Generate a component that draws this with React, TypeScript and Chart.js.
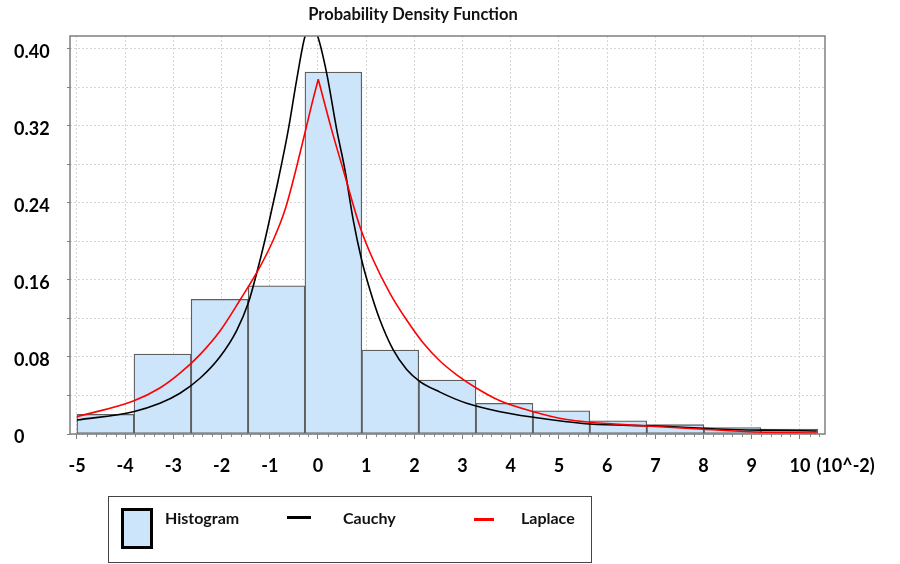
import React, { useEffect, useRef } from "react";
import { Chart, registerables } from "chart.js";

Chart.register(...registerables);

// ---------- data ----------
const chartTitle = "Probability Density Function";

// histogram bin edges (x, in units of 10^-2) and densities
const histEdges = [-5, -3.82, -2.63, -1.45, -0.27, 0.91, 2.09, 3.28, 4.46, 5.64, 6.82, 8.01, 9.19, 10.37];
const histValues = [0.0205, 0.083, 0.14, 0.154, 0.376, 0.0873, 0.056, 0.0319, 0.0242, 0.0138, 0.0097, 0.0066, 0.005];

// fitted Cauchy curve, read point by point
const cauchyX = [-5, -3.83, -3.28, -2.863, -2.448, -2.033, -1.687, -1.446, -1.272, -1.1, -0.961, -0.824, -0.616, -0.442, -0.27, -0.14, -0.015, 0.18, 0.39, 0.56, 0.732, 0.907, 1.079, 1.286, 1.562, 1.84, 2.116, 2.531, 2.842, 3.085, 3.78, 4.47, 5.16, 5.64, 7.03, 8.4, 9.44, 10.35];
const cauchyY = [0.0145, 0.0232, 0.0319, 0.0423, 0.0579, 0.0803, 0.1075, 0.136, 0.167, 0.2016, 0.2327, 0.2639, 0.316, 0.368, 0.413, 0.424, 0.4146, 0.375, 0.316, 0.2743, 0.2223, 0.1808, 0.1496, 0.1184, 0.0873, 0.067, 0.0545, 0.0435, 0.0365, 0.032, 0.0232, 0.0174, 0.0128, 0.0104, 0.0083, 0.0049, 0.0038, 0.0031];

// fitted Laplace curve, read point by point (cusp at the peak)
const laplaceX = [-5, -3.83, -3.28, -2.863, -2.448, -2.033, -1.618, -1.239, -0.927, -0.685, -0.512, -0.27, -0.131, 0.006, 0.284, 0.525, 0.871, 1.147, 1.494, 1.84, 2.185, 2.531, 2.878, 3.293, 3.776, 4.47, 5.16, 5.64, 6.82, 8.0, 9.1, 10.35];
const laplaceY = [0.018, 0.0343, 0.0478, 0.0632, 0.0825, 0.107, 0.1392, 0.1704, 0.2016, 0.2327, 0.2639, 0.313, 0.342, 0.3685, 0.316, 0.2743, 0.2154, 0.1808, 0.1462, 0.1184, 0.0945, 0.0758, 0.0615, 0.0475, 0.0345, 0.0232, 0.015, 0.0122, 0.0083, 0.0049, 0.0021, 0.001];

const xTickValues = [-5, -4, -3, -2, -1, 0, 1, 2, 3, 4, 5, 6, 7, 8, 9, 10];
const xUnitLabel = "(10^-2)";
const yTickValues = [0, 0.04, 0.08, 0.12, 0.16, 0.2, 0.24, 0.28, 0.32, 0.36, 0.4];
const yTickLabels = ["0", "", "0.08", "", "0.16", "", "0.24", "", "0.32", "", "0.40"];
const legendLabels = ["Histogram", "Cauchy", "Laplace"];

const X_MIN = -5.145;
const X_MAX = 10.52;
const Y_MIN = 0;
const Y_MAX = 0.4135;

// ---------- styles ----------
const FONT = "Lato, 'Open Sans', 'Noto Sans', sans-serif";
const BAR_FILL = "#cde5fb";
const BAR_BORDER = "#5e5e5e";
const CAUCHY_COLOR = "#000000";
const LAPLACE_COLOR = "#ff0000";

export default function App() {
  const canvasRef = useRef<HTMLCanvasElement | null>(null);

  useEffect(() => {
    if (!canvasRef.current) return;

    const histData = histValues.map((v, i) => ({ x: (histEdges[i] + histEdges[i + 1]) / 2, y: v }));
    const cauchyData = cauchyX.map((x, i) => ({ x, y: cauchyY[i] }));
    const peakIdx = laplaceY.indexOf(Math.max(...laplaceY));
    const laplaceData: { x: number; y: number | null }[] = [];
    laplaceX.forEach((x, i) => {
      laplaceData.push({ x, y: laplaceY[i] });
      if (i === peakIdx) {
        laplaceData.push({ x, y: null });
        laplaceData.push({ x, y: laplaceY[i] });
      }
    });

    const decor = {
      id: "decor",
      afterDraw(chart: any) {
        const { ctx, chartArea } = chart;
        const xs = chart.scales.x;
        ctx.save();
        // minor ticks on the x axis
        ctx.strokeStyle = "#8a8a8a";
        ctx.lineWidth = 1;
        for (let k = -25; k <= 52; k++) {
          if (k % 5 === 0) continue;
          const v = k / 5;
          const px = Math.round(xs.getPixelForValue(v)) + 0.5;
          if (px < chartArea.left || px > chartArea.right) continue;
          ctx.beginPath();
          ctx.moveTo(px, chartArea.bottom);
          ctx.lineTo(px, chartArea.bottom + 3);
          ctx.stroke();
        }
        // plot frame
        ctx.strokeStyle = "#7f7f7f";
        ctx.lineWidth = 1.5;
        ctx.strokeRect(chartArea.left, chartArea.top, chartArea.right - chartArea.left, chartArea.bottom - chartArea.top);
        // title
        ctx.fillStyle = "#111";
        ctx.font = `bold 16.5px ${FONT}`;
        ctx.textAlign = "center";
        ctx.textBaseline = "middle";
        ctx.fillText(chartTitle, 413, 15);
        // unit next to last x tick label
        ctx.font = `bold 18px ${FONT}`;
        ctx.textAlign = "left";
        const last = xTickValues[xTickValues.length - 1];
        const lastW = ctx.measureText(String(last)).width;
        const lx = xs.getPixelForValue(last) + lastW / 2 + 6;
        ctx.fillStyle = "#000";
        ctx.fillText(xUnitLabel, lx, 466);
        ctx.restore();
      },
    };

    const chart = new Chart(canvasRef.current, {
      type: "bar",
      data: {
        datasets: [
          {
            type: "line",
            label: legendLabels[2],
            data: laplaceData as any,
            borderColor: LAPLACE_COLOR,
            borderWidth: 1.6,
            pointRadius: 0,
            cubicInterpolationMode: "monotone",
            spanGaps: false,
            fill: false,
            order: 0,
          } as any,
          {
            type: "line",
            label: legendLabels[1],
            data: cauchyData,
            borderColor: CAUCHY_COLOR,
            borderWidth: 1.6,
            pointRadius: 0,
            cubicInterpolationMode: "monotone",
            fill: false,
            order: 1,
          } as any,
          {
            type: "bar",
            label: legendLabels[0],
            data: histData,
            backgroundColor: BAR_FILL,
            borderColor: BAR_BORDER,
            borderWidth: 1.3,
            borderSkipped: false,
            barThickness: "flex",
            categoryPercentage: 1,
            barPercentage: 1,
            order: 2,
          } as any,
        ],
      },
      options: {
        responsive: false,
        animation: false,
        layout: { padding: { left: 14, right: 75, top: 36, bottom: 90 } },
        plugins: {
          legend: { display: false },
          title: { display: false },
          tooltip: { enabled: false },
        },
        scales: {
          x: {
            type: "linear",
            offset: false,
            min: X_MIN,
            max: X_MAX,
            afterBuildTicks: (s: any) => {
              s.ticks = xTickValues.map((v) => ({ value: v }));
            },
            afterFit: (s: any) => {
              s.height = 40;
            },
            grid: {
              offset: false,
              color: "#d6d6d6",
              lineWidth: 1,
              tickLength: 5,
              tickColor: "#7f7f7f",
              tickWidth: 1,
            },
            border: { display: false, dash: [2, 2] },
            ticks: {
              color: "#000",
              font: { family: FONT, size: 18, weight: "bold" },
              padding: 16,
              maxRotation: 0,
              autoSkip: false,
              callback: (v: any) => String(v),
            },
          },
          y: {
            type: "linear",
            min: Y_MIN,
            max: Y_MAX,
            afterBuildTicks: (s: any) => {
              s.ticks = yTickValues.map((v) => ({ value: v }));
            },
            afterFit: (s: any) => {
              s.width = 56;
            },
            grid: {
              color: "#d6d6d6",
              lineWidth: 1,
              tickLength: 3,
              tickColor: "#7f7f7f",
              tickWidth: 1,
            },
            border: { display: false, dash: [2, 2] },
            ticks: {
              color: "#000",
              font: { family: FONT, size: 18, weight: "bold" },
              crossAlign: "far",
              labelOffset: 3,
              autoSkip: false,
              callback: (_v: any, i: number) => yTickLabels[i],
            },
          },
        },
      } as any,
      plugins: [decor],
    });

    return () => chart.destroy();
  }, []);

  const textStyle: React.CSSProperties = {
    position: "absolute",
    top: 510,
    fontFamily: FONT,
    fontWeight: "bold",
    fontSize: 16,
    lineHeight: "16px",
    color: "#111",
    whiteSpace: "nowrap",
  };

  return (
    <div style={{ position: "fixed", left: 0, top: 0, width: 900, height: 564, background: "#fff", overflow: "hidden" }}>
      <canvas ref={canvasRef} width={900} height={564} style={{ position: "absolute", left: 0, top: 0, width: 900, height: 564 }} />
      <div
        style={{
          position: "absolute",
          left: 108,
          top: 496,
          width: 484,
          height: 67,
          border: "1px solid #444",
          boxSizing: "border-box",
        }}
      />
      <div
        style={{
          position: "absolute",
          left: 121,
          top: 508,
          width: 32,
          height: 41,
          border: "3.5px solid #000",
          background: BAR_FILL,
          boxSizing: "border-box",
        }}
      />
      <div style={{ ...textStyle, left: 165 }}>{legendLabels[0]}</div>
      <div style={{ position: "absolute", left: 287, top: 516, width: 24, height: 3, background: CAUCHY_COLOR }} />
      <div style={{ ...textStyle, left: 343 }}>{legendLabels[1]}</div>
      <div style={{ position: "absolute", left: 474, top: 518, width: 20, height: 3, background: LAPLACE_COLOR }} />
      <div style={{ ...textStyle, left: 521 }}>{legendLabels[2]}</div>
    </div>
  );
}
